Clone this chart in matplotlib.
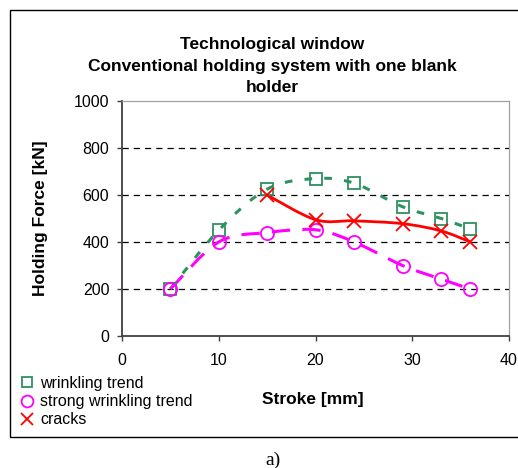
import numpy as np
import matplotlib
matplotlib.use('Agg')
import matplotlib.pyplot as plt
from matplotlib.path import Path
from matplotlib.patches import PathPatch, Rectangle
from matplotlib.lines import Line2D

plt.rcParams['font.family'] = ['Liberation Sans', 'DejaVu Sans']

# data
stroke = [5, 10, 15, 20, 24, 29, 33, 36]
wrinkling = [200, 450, 625, 670, 650, 550, 500, 455]
strong_wrinkling = [200, 400, 440, 452, 400, 300, 242, 200]
stroke_cracks = [15, 20, 24, 29, 33, 36]
cracks = [600, 495, 490, 478, 447, 400]

GREEN = '#2e9160'
MAGENTA = '#ff00ff'
RED = '#ff0000'


def smooth_path(xs, ys, k=1.0 / 6):
    # excel-like smoothed line: cubic bezier segments through the points
    pts = np.column_stack([xs, ys]).astype(float)
    verts = [pts[0]]
    codes = [Path.MOVETO]
    n = len(pts)
    for i in range(n - 1):
        p0 = pts[i - 1] if i > 0 else pts[i]
        p1 = pts[i]
        p2 = pts[i + 1]
        p3 = pts[i + 2] if i + 2 < n else pts[i + 1]
        c1 = p1 + (p2 - p0) * k
        c2 = p2 - (p3 - p1) * k
        verts += [c1, c2, p2]
        codes += [Path.CURVE4] * 3
    return Path(verts, codes)


fig = plt.figure(figsize=(5.18, 4.68), dpi=100)
ax = fig.add_axes([122 / 518, 1 - 336 / 468, (509 - 122) / 518, (336 - 101) / 468])

for xs, ys, col, ls, lw in [
    (stroke, wrinkling, GREEN, (0, (2.5, 4)), 2.2),
    (stroke, strong_wrinkling, MAGENTA, (0, (6, 4)), 2.2),
    (stroke_cracks, cracks, RED, '-', 2.0),
]:
    ax.add_patch(PathPatch(smooth_path(xs, ys), facecolor='none', edgecolor=col,
                           linestyle=ls, lw=lw, capstyle='butt', zorder=3))

ax.plot(stroke, wrinkling, ls='none', marker='s', ms=8.5, mfc='none', mec=GREEN, mew=1.3, zorder=4)
ax.plot(stroke, strong_wrinkling, ls='none', marker='o', ms=9.5, mfc='none', mec=MAGENTA, mew=1.3, zorder=4)
ax.plot(stroke_cracks, cracks, ls='none', marker='x', ms=9.5, mec=RED, mew=1.3, zorder=4)

ax.set_xlim(0, 40)
ax.set_ylim(0, 1000)
ax.set_xticks([0, 10, 20, 30, 40])
ax.set_yticks([0, 200, 400, 600, 800, 1000])
for y in [200, 400, 600, 800]:
    ax.axhline(y, color='black', lw=0.9, ls=(0, (5, 4)), zorder=1)

for s in ['left', 'bottom']:
    ax.spines[s].set_color('#404040')
    ax.spines[s].set_linewidth(1.3)
for s in ['top', 'right']:
    ax.spines[s].set_color('#a0a0a0')
    ax.spines[s].set_linewidth(0.9)
ax.tick_params(direction='out', length=3.6, width=1.0, color='#404040', labelsize=11.5)
ax.tick_params(axis='y', pad=5.5)
ax.tick_params(axis='x', pad=8.5)

ax.set_xlabel('Stroke [mm]', fontsize=12.5, fontweight='bold', labelpad=0)
ax.xaxis.set_label_coords((313 - 122) / (509 - 122), -(392 - 336) / (336 - 101))
ax.set_ylabel('Holding Force [kN]', fontsize=12.5, fontweight='bold')
ax.yaxis.set_label_coords(-(122 - 48) / (509 - 122), 0.5)

for txt, yp in [('Technological window', 45),
                ('Conventional holding system with one blank', 66),
                ('holder', 88)]:
    fig.text(272 / 518, 1 - yp / 468, txt, ha='center', va='center',
             fontsize=12.5, fontweight='bold')

handles = [
    Line2D([], [], ls='none', marker='s', ms=7.5, mfc='none', mec=GREEN, mew=1.3),
    Line2D([], [], ls='none', marker='o', ms=8.5, mfc='none', mec=MAGENTA, mew=1.3),
    Line2D([], [], ls='none', marker='x', ms=9, mec=RED, mew=1.3),
]
fig.legend(handles, ['wrinkling trend', 'strong wrinkling trend', 'cracks'],
           loc='upper left', bbox_to_anchor=(21 / 518, 1 - 376 / 468), frameon=False,
           fontsize=11.5, handlelength=0.8, handletextpad=0.4, labelspacing=0.2,
           borderpad=0, borderaxespad=0)

# outer chart frame (right side runs off the image)
fig.patches.append(Rectangle((10 / 518, 1 - 437 / 468), 1.0, (437 - 10) / 468,
                             transform=fig.transFigure, fill=False, ec='black', lw=1.0))

fig.text(273 / 518, 1 - 460 / 468, 'a)', ha='center', va='center', fontsize=14,
         family=['Liberation Serif', 'DejaVu Serif'])

fig.savefig('out.png', dpi=100)
